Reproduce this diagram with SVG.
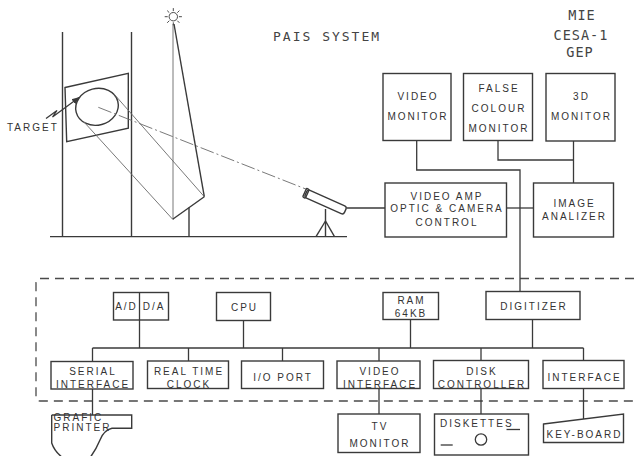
<svg xmlns="http://www.w3.org/2000/svg" width="634" height="456" viewBox="0 0 634 456">
  <defs>
    <style>
      .box { fill: #fff; stroke: #3a3a3a; stroke-width: 1.4; }
      .wire { fill: none; stroke: #3a3a3a; stroke-width: 1.3; }
      .thin { fill: none; stroke: #6a6a6a; stroke-width: 0.9; }
      .heavy { fill: none; stroke: #3a3a3a; stroke-width: 1.4; }
      .lbl { font-family: "Liberation Sans", Arial, sans-serif; font-size: 10px; letter-spacing: 2px; fill: #333; text-anchor: middle; }
      .lbl.left { text-anchor: start; }
      .mono { font-family: "DejaVu Sans Mono", "Liberation Mono", monospace; fill: #444; }
      .frame { fill: none; stroke: #4a4a4a; stroke-width: 1.3; stroke-dasharray: 9 6; }
    </style>
    <marker id="arrow" viewBox="0 0 10 10" refX="9" refY="5" markerWidth="6" markerHeight="6" orient="auto">
      <path d="M0,1 L10,5 L0,9 z" fill="#3a3a3a"/>
    </marker>
  </defs>
  <rect width="634" height="456" fill="#fff"/>

  <!-- titles -->
  <text class="mono" x="273" y="41" font-size="13" letter-spacing="2">PAIS SYSTEM</text>
  <g class="mono" font-size="13.5" letter-spacing="1" text-anchor="middle">
    <text x="582" y="20">MIE</text>
    <text x="581" y="40">CESA-1</text>
    <text x="580" y="57">GEP</text>
  </g>

  <!-- solar scene: towers, target, heliostat, sun and camera -->
  <g id="scene">
    <line x1="50" y1="236.7" x2="347" y2="236.7" stroke="#3a3a3a" stroke-width="1.3"/>
    <line class="heavy" x1="62.5" y1="32" x2="62.5" y2="236.7"/>
    <line class="heavy" x1="131.5" y1="32" x2="131.5" y2="236.7"/>
    <polygon class="heavy" points="65,87.5 128.3,73.3 128.3,128.3 66.7,141.7" fill="#fff"/>
    <ellipse class="heavy" cx="97" cy="106.8" rx="21.5" ry="18.3" transform="rotate(-15 97 106.8)"/>
    <!-- reflected beam -->
    <line class="thin" x1="84" y1="122" x2="172.7" y2="219.3"/>
    <line class="thin" x1="114" y1="94" x2="204.3" y2="196.7"/>
    <line class="thin" x1="98.3" y1="107.3" x2="307" y2="189.5" stroke-dasharray="14 3 2 3"/>
    <!-- target pointer -->
    <polyline class="wire" points="46,118.5 57,110.5 52.5,117 79,97.5" marker-end="url(#arrow)"/>
    <text class="lbl left" x="7" y="131" font-size="9" letter-spacing="2.6">TARGET</text>
    <!-- sun -->
    <g transform="translate(173.3 16.7)" stroke="#4a4a4a" stroke-width="1">
      <circle r="4.2" fill="#fff"/>
      <line x1="0" y1="-5.6" x2="0" y2="-8.6"/>
      <line x1="0" y1="5.6" x2="0" y2="8.6"/>
      <line x1="-5.6" y1="0" x2="-8.6" y2="0"/>
      <line x1="5.6" y1="0" x2="8.6" y2="0"/>
      <line x1="4" y1="4" x2="6.1" y2="6.1"/>
      <line x1="-4" y1="4" x2="-6.1" y2="6.1"/>
      <line x1="4" y1="-4" x2="6.1" y2="-6.1"/>
      <line x1="-4" y1="-4" x2="-6.1" y2="-6.1"/>
    </g>
    <line class="thin" x1="173" y1="24" x2="173" y2="219.3"/>
    <line class="heavy" x1="174" y1="24" x2="204.3" y2="196.7" stroke-width="1.2"/>
    <!-- heliostat mirror and post -->
    <line class="heavy" x1="172.7" y1="219.3" x2="204.3" y2="196.7"/>
    <line class="heavy" x1="189" y1="207.6" x2="189" y2="236.7"/>
    <!-- camera on tripod -->
    <g transform="translate(325.6 202) rotate(24)">
      <rect class="heavy" x="-21.5" y="-4.3" width="43" height="8.6" rx="2.5" fill="#fff"/>
      <rect class="heavy" x="-23" y="-4.8" width="3" height="9.6" rx="1" fill="#fff"/>
    </g>
    <line class="heavy" x1="325.5" y1="209" x2="325.5" y2="236.7"/>
    <line class="heavy" x1="325.5" y1="221" x2="316" y2="236.7"/>
    <line class="heavy" x1="325.5" y1="221" x2="334.5" y2="236.7"/>
  </g>

  <!-- microcomputer enclosure -->
  <path class="frame" d="M634,278.5 H40 Q36,278.5 36,282.5 V397 Q36,401 40,401 H634"/>

  <!-- connectors -->
  <g id="connectors">
    <path class="wire" d="M416.7,140.5 V170 H520 V291.5"/>
    <path class="wire" d="M498,140.5 V160 H573.5"/>
    <path class="wire" d="M573.5,141 V183"/>
    <path class="wire" d="M506.5,208 H533.5"/>
    <path class="wire" d="M347,208 H385"/>
    <path class="wire" d="M139.5,320 V348"/>
    <path class="wire" d="M243.5,320.5 V348"/>
    <path class="wire" d="M410.5,319.5 V348"/>
    <path class="wire" d="M532.5,319.5 V348"/>
    <path class="wire" d="M92.5,348 H583.5"/>
    <path class="wire" d="M92.5,348 V361.5 M188.5,348 V361 M282.5,348 V361 M379,348 V361 M481,348 V360.5 M583.5,348 V360.5"/>
    <path class="wire" d="M92.5,389 V415"/>
    <path class="wire" d="M379,388.5 V414"/>
    <path class="wire" d="M481,388.5 V414"/>
    <path class="wire" d="M583.5,388.5 V419"/>
  </g>

  <!-- display and processing units -->
  <g id="video-monitor">
    <rect class="box" x="383" y="73.5" width="68" height="67"/>
    <text class="lbl" x="418" y="100">VIDEO</text>
    <text class="lbl" x="418" y="120">MONITOR</text>
  </g>
  <g id="false-colour-monitor">
    <rect class="box" x="463.5" y="73.5" width="69" height="67"/>
    <text class="lbl" x="499" y="92">FALSE</text>
    <text class="lbl" x="499" y="112">COLOUR</text>
    <text class="lbl" x="499" y="132">MONITOR</text>
  </g>
  <g id="monitor-3d">
    <rect class="box" x="546" y="73.5" width="69" height="67.5"/>
    <text class="lbl" x="581.5" y="100">3D</text>
    <text class="lbl" x="581.5" y="120">MONITOR</text>
  </g>
  <g id="video-amp">
    <rect class="box" x="385" y="183" width="121.5" height="54"/>
    <text class="lbl" x="447" y="200">VIDEO AMP</text>
    <text class="lbl" x="447" y="212">OPTIC &amp; CAMERA</text>
    <text class="lbl" x="447" y="226">CONTROL</text>
  </g>
  <g id="image-analizer">
    <rect class="box" x="533.5" y="183" width="80" height="54"/>
    <text class="lbl" x="574.5" y="206.5">IMAGE</text>
    <text class="lbl" x="574.5" y="220">ANALIZER</text>
  </g>

  <!-- computer boards -->
  <g id="ad-da">
    <rect class="box" x="113.5" y="292.5" width="55" height="27.5"/>
    <line class="wire" x1="139.5" y1="292.5" x2="139.5" y2="320"/>
    <text class="lbl" x="126.5" y="309.5" letter-spacing="0.3">A/D</text>
    <text class="lbl" x="154" y="309.5" letter-spacing="0.3">D/A</text>
  </g>
  <g id="cpu">
    <rect class="box" x="216.5" y="292.5" width="54" height="28"/>
    <text class="lbl" x="244.5" y="310.5">CPU</text>
  </g>
  <g id="ram">
    <rect class="box" x="383" y="292.5" width="55.5" height="27"/>
    <text class="lbl" x="411.5" y="303.5" font-size="9" letter-spacing="1">RAM</text>
    <text class="lbl" x="411" y="317" font-size="9" letter-spacing="0.5">64KB</text>
  </g>
  <g id="digitizer">
    <rect class="box" x="486" y="291.5" width="94" height="28"/>
    <text class="lbl" x="534" y="310">DIGITIZER</text>
  </g>
  <g id="serial-interface">
    <rect class="box" x="51" y="361.5" width="82" height="27.5"/>
    <text class="lbl" x="93" y="375">SERIAL</text>
    <text class="lbl" x="93" y="388">INTERFACE</text>
  </g>
  <g id="real-time-clock">
    <rect class="box" x="147.5" y="361" width="81" height="27.5"/>
    <text class="lbl" x="189" y="375">REAL TIME</text>
    <text class="lbl" x="189" y="388">CLOCK</text>
  </g>
  <g id="io-port">
    <rect class="box" x="241.5" y="361" width="82" height="27.5"/>
    <text class="lbl" x="283" y="380.5">I/O PORT</text>
  </g>
  <g id="video-interface">
    <rect class="box" x="337" y="361" width="83" height="27.5"/>
    <text class="lbl" x="380" y="375">VIDEO</text>
    <text class="lbl" x="380" y="388">INTERFACE</text>
  </g>
  <g id="disk-controller">
    <rect class="box" x="433.5" y="360.5" width="95" height="28"/>
    <text class="lbl" x="482" y="375">DISK</text>
    <text class="lbl" x="482" y="388">CONTROLLER</text>
  </g>
  <g id="interface">
    <rect class="box" x="543" y="360.5" width="81" height="28"/>
    <text class="lbl" x="584.5" y="381">INTERFACE</text>
  </g>

  <!-- peripherals -->
  <g id="grafic-printer">
    <path class="box" d="M51.7,415 H131.7 V428.3 H112 Q104,430 100,440 Q95,452 88,460 M51.7,415 V443 Q55,453 66,460"/>
    <text class="lbl left" x="53.5" y="420.8" font-size="7" letter-spacing="4">GRAFIC</text>
    <text class="lbl left" x="53.5" y="430.8" font-size="7" letter-spacing="3.6">PRINTER</text>
  </g>
  <g id="tv-monitor">
    <rect class="box" x="338" y="414" width="82" height="38.5"/>
    <text class="lbl" x="380" y="430">TV</text>
    <text class="lbl" x="380" y="446.5">MONITOR</text>
  </g>
  <g id="diskettes">
    <rect class="box" x="434.5" y="414" width="94" height="41"/>
    <text class="lbl left" x="440" y="427">DISKETTES</text>
    <line class="wire" x1="506.5" y1="429.5" x2="520" y2="429.5"/>
    <line class="wire" x1="440.7" y1="445" x2="452.7" y2="445"/>
    <circle class="wire" cx="481" cy="439.5" r="5.7"/>
  </g>
  <g id="key-board">
    <polygon class="box" points="543.5,424 623.5,414 623.5,442.5 543.5,442.5"/>
    <text class="lbl" x="584.5" y="437.5">KEY-BOARD</text>
  </g>
</svg>
